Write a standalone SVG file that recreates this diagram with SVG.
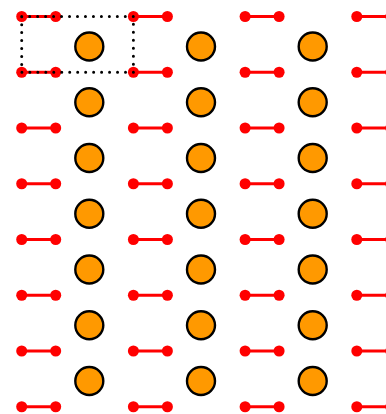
<svg xmlns="http://www.w3.org/2000/svg" xmlns:xlink="http://www.w3.org/1999/xlink" width="386" height="414" viewBox="0 0 386 414">
<style>
.bond{stroke:#ff0000;stroke-width:3.2;stroke-linecap:butt}
.atom{fill:#ff0000}
.big{fill:#ff9900;stroke:#000;stroke-width:2.4}
.cell{fill:none;stroke:#000;stroke-width:3;stroke-linecap:round;stroke-dasharray:0 7.97}
</style>
<defs>
<g id="dimer"><line class="bond" x1="0" y1="0" x2="34" y2="0"/><circle class="atom" cx="0" cy="0" r="5.5"/><circle class="atom" cx="34" cy="0" r="5.5"/></g>
<circle id="ball" class="big" cx="0" cy="0" r="14"/>
</defs>
<rect width="386" height="414" fill="#fff"/>
<g id="dimers">
<g id="d0-0"><use href="#dimer" x="21.7" y="16.5"/></g>
<g id="d1-0"><use href="#dimer" x="133.4" y="16.5"/></g>
<g id="d2-0"><use href="#dimer" x="245.1" y="16.5"/></g>
<g id="d3-0"><use href="#dimer" x="356.8" y="16.5"/></g>
<g id="d0-1"><use href="#dimer" x="21.7" y="72.25"/></g>
<g id="d1-1"><use href="#dimer" x="133.4" y="72.25"/></g>
<g id="d2-1"><use href="#dimer" x="245.1" y="72.25"/></g>
<g id="d3-1"><use href="#dimer" x="356.8" y="72.25"/></g>
<g id="d0-2"><use href="#dimer" x="21.7" y="128"/></g>
<g id="d1-2"><use href="#dimer" x="133.4" y="128"/></g>
<g id="d2-2"><use href="#dimer" x="245.1" y="128"/></g>
<g id="d3-2"><use href="#dimer" x="356.8" y="128"/></g>
<g id="d0-3"><use href="#dimer" x="21.7" y="183.75"/></g>
<g id="d1-3"><use href="#dimer" x="133.4" y="183.75"/></g>
<g id="d2-3"><use href="#dimer" x="245.1" y="183.75"/></g>
<g id="d3-3"><use href="#dimer" x="356.8" y="183.75"/></g>
<g id="d0-4"><use href="#dimer" x="21.7" y="239.5"/></g>
<g id="d1-4"><use href="#dimer" x="133.4" y="239.5"/></g>
<g id="d2-4"><use href="#dimer" x="245.1" y="239.5"/></g>
<g id="d3-4"><use href="#dimer" x="356.8" y="239.5"/></g>
<g id="d0-5"><use href="#dimer" x="21.7" y="295.25"/></g>
<g id="d1-5"><use href="#dimer" x="133.4" y="295.25"/></g>
<g id="d2-5"><use href="#dimer" x="245.1" y="295.25"/></g>
<g id="d3-5"><use href="#dimer" x="356.8" y="295.25"/></g>
<g id="d0-6"><use href="#dimer" x="21.7" y="351"/></g>
<g id="d1-6"><use href="#dimer" x="133.4" y="351"/></g>
<g id="d2-6"><use href="#dimer" x="245.1" y="351"/></g>
<g id="d3-6"><use href="#dimer" x="356.8" y="351"/></g>
<g id="d0-7"><use href="#dimer" x="21.7" y="406.75"/></g>
<g id="d1-7"><use href="#dimer" x="133.4" y="406.75"/></g>
<g id="d2-7"><use href="#dimer" x="245.1" y="406.75"/></g>
<g id="d3-7"><use href="#dimer" x="356.8" y="406.75"/></g>
</g>
<g id="balls">
<g id="b0-0"><use href="#ball" x="89.3" y="46.5"/></g>
<g id="b1-0"><use href="#ball" x="201" y="46.5"/></g>
<g id="b2-0"><use href="#ball" x="312.7" y="46.5"/></g>
<g id="b0-1"><use href="#ball" x="89.3" y="102.25"/></g>
<g id="b1-1"><use href="#ball" x="201" y="102.25"/></g>
<g id="b2-1"><use href="#ball" x="312.7" y="102.25"/></g>
<g id="b0-2"><use href="#ball" x="89.3" y="158"/></g>
<g id="b1-2"><use href="#ball" x="201" y="158"/></g>
<g id="b2-2"><use href="#ball" x="312.7" y="158"/></g>
<g id="b0-3"><use href="#ball" x="89.3" y="213.75"/></g>
<g id="b1-3"><use href="#ball" x="201" y="213.75"/></g>
<g id="b2-3"><use href="#ball" x="312.7" y="213.75"/></g>
<g id="b0-4"><use href="#ball" x="89.3" y="269.5"/></g>
<g id="b1-4"><use href="#ball" x="201" y="269.5"/></g>
<g id="b2-4"><use href="#ball" x="312.7" y="269.5"/></g>
<g id="b0-5"><use href="#ball" x="89.3" y="325.25"/></g>
<g id="b1-5"><use href="#ball" x="201" y="325.25"/></g>
<g id="b2-5"><use href="#ball" x="312.7" y="325.25"/></g>
<g id="b0-6"><use href="#ball" x="89.3" y="381"/></g>
<g id="b1-6"><use href="#ball" x="201" y="381"/></g>
<g id="b2-6"><use href="#ball" x="312.7" y="381"/></g>
</g>
<g id="unit-cell"><rect class="cell" x="21.7" y="16.5" width="111.7" height="55.75"/></g>
</svg>
